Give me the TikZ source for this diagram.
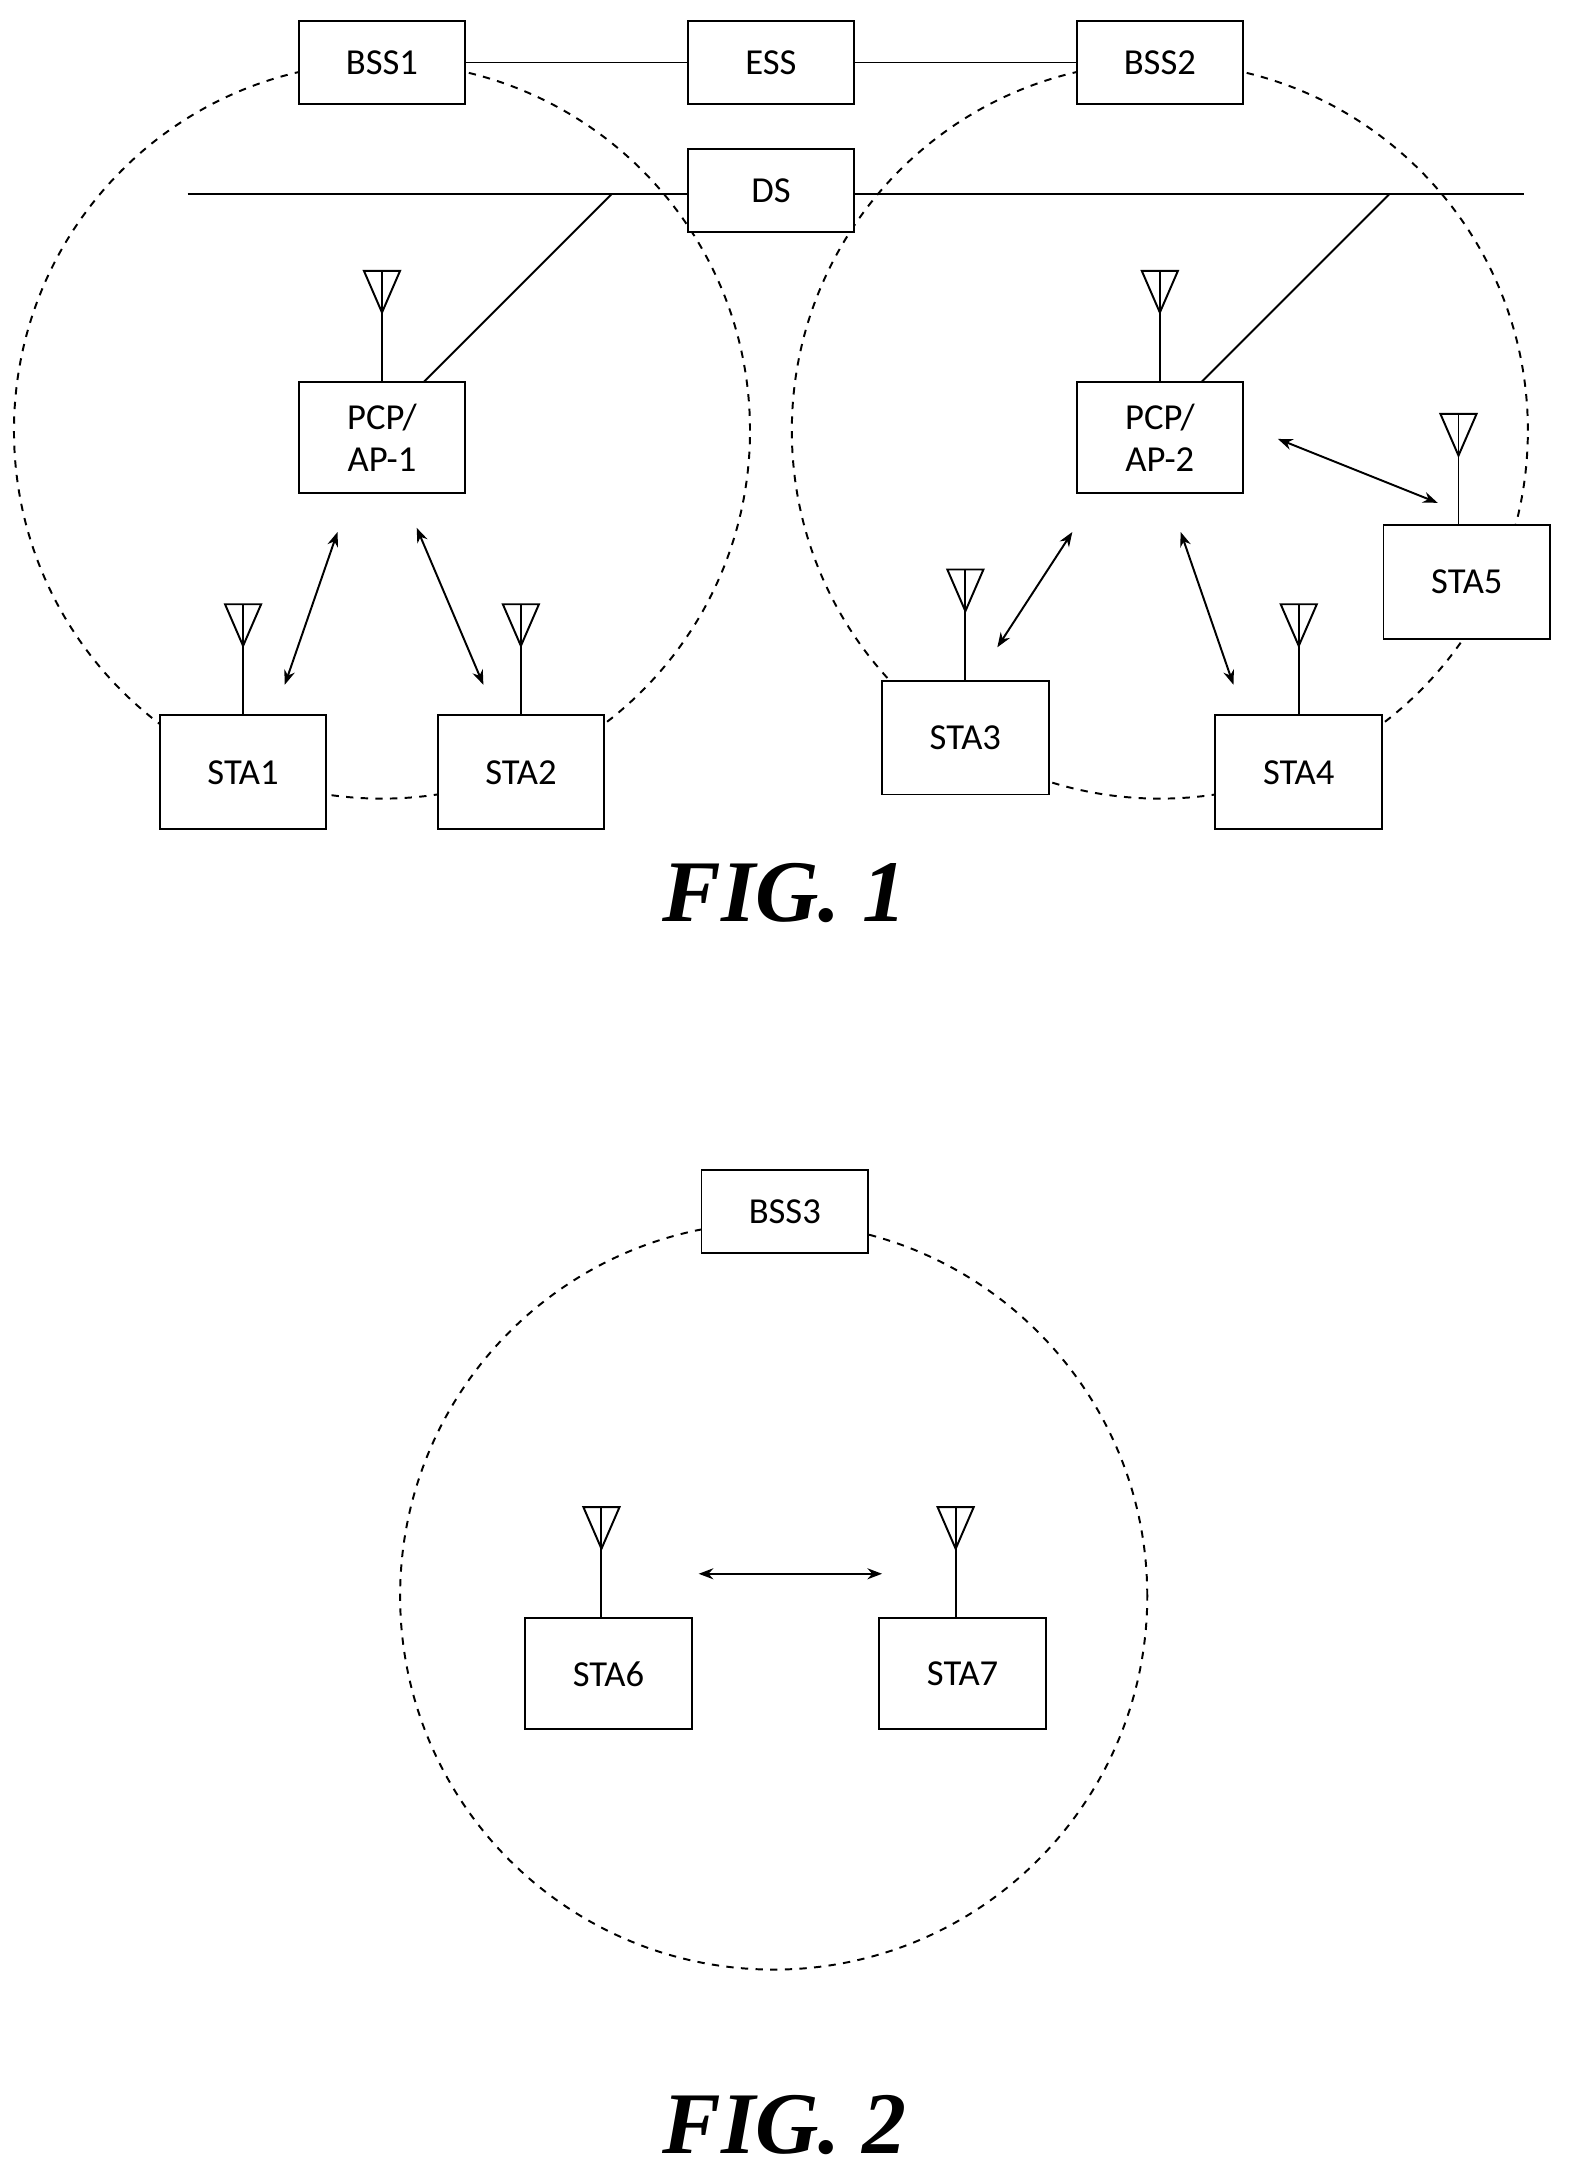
\documentclass[tikz,border=0pt]{standalone}
\usepackage{fontspec}
\setmainfont{Carlito}
\newfontfamily\figfont{Liberation Serif}
\usetikzlibrary{arrows.meta}
\tikzset{
  box/.style={draw, thick, minimum width=2.4cm, minimum height=1.2cm, align=center,
    font=\fontsize{15}{17}\selectfont, fill=white},
  bss/.style={draw, dashed, thick},
  link/.style={{Stealth[length=6pt]}-{Stealth[length=6pt]}, thick},
  fig/.style={font=\figfont\fontsize{36}{40}\selectfont\bfseries\itshape},
}
% antenna above a box: x, top edge y of the box
\newcommand{\antenna}[2]{%
  \draw[thick] (#1-13,#2-80) -- (#1+13,#2-80) -- (#1,#2-50) -- cycle;
  \draw[thick] (#1,#2-80) -- (#1,#2);}
\begin{document}
\begin{tikzpicture}[x=0.02cm, y=-0.02cm]
  \useasboundingbox (0,0) rectangle (1132,1568);
  % coverage circles
  \draw[bss] (275,310) circle (5.3cm);
  \draw[bss] (835,310) circle (5.3cm);
  \draw[bss] (557,1149) circle (5.38cm);

  % distribution system
  \coordinate (dsl) at (135,140);
  \coordinate (dsr) at (1097,140);
  \draw[thick] (dsl) -- (dsr);
  \node[box] (ds) at (555,137) {DS};

  \node[box] (bss1) at (275,45) {BSS1};
  \node[box] (ess) at (555,45) {ESS};
  \node[box] (bss2) at (835,45) {BSS2};
  \draw[thick] (bss1) -- (ess) -- (bss2);

  % access points
  \node[box, minimum height=1.6cm] (ap1) at (275,315) {PCP/\\AP-1};
  \node[box, minimum height=1.6cm] (ap2) at (835,315) {PCP/\\AP-2};
  \coordinate (tap1) at (440,140);
  \coordinate (tap2) at (1000,140);
  \draw[thick] (305,275) -- (tap1);
  \draw[thick] (865,275) -- (tap2);
  \antenna{275}{275}
  \antenna{835}{275}

  % stations
  \node[box, minimum height=1.64cm] (sta1) at (175,556) {STA1};
  \node[box, minimum height=1.64cm] (sta2) at (375,556) {STA2};
  \node[box, minimum height=1.64cm] (sta3) at (695,531) {STA3};
  \node[box, minimum height=1.64cm] (sta4) at (935,556) {STA4};
  \node[box, minimum height=1.64cm] (sta5) at (1056,419) {STA5};
  \antenna{175}{515}
  \antenna{375}{515}
  \antenna{695}{490}
  \antenna{935}{515}
  \antenna{1050}{378}

  \draw[link] (243,383) -- (205,493);
  \draw[link] (300,380) -- (348,493);
  \draw[link] (772,383) -- (718,466);
  \draw[link] (850,383) -- (888,493);
  \draw[link] (920,316) -- (1035,362);

  \node[fig] (fig1) at (565,643) {FIG. 1};

  % independent BSS
  \node[box] (bss3) at (565,872) {BSS3};
  \node[box, minimum height=1.6cm] (sta6) at (438,1205) {STA6};
  \node[box, minimum height=1.6cm] (sta7) at (693,1205) {STA7};
  \antenna{433}{1165}
  \antenna{688}{1165}
  \draw[link] (503,1133) -- (635,1133);

  \node[fig] (fig2) at (565,1530) {FIG. 2};
\end{tikzpicture}
\end{document}
